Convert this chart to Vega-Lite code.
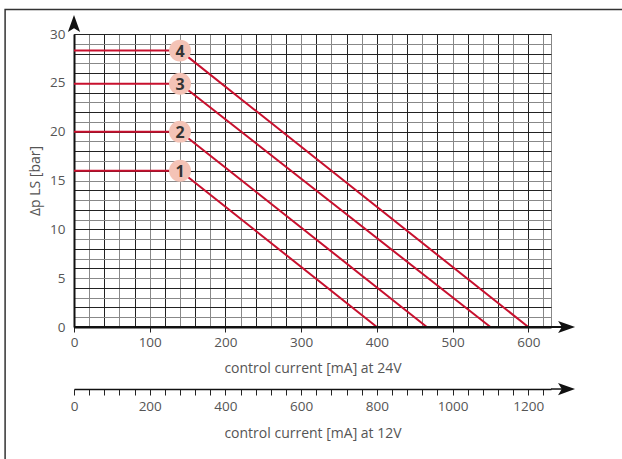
{
  "$schema": "https://vega.github.io/schema/vega-lite/v6.json",
  "autosize": {"type": "none"},
  "width": 477,
  "height": 293,
  "padding": {"left": 74, "top": 34, "right": 71, "bottom": 132},
  "background": "white",
  "config": {
    "view": {"stroke": "#888", "strokeWidth": 1},
    "font": "Open Sans",
    "axis": {"labelFont": "Open Sans", "titleFont": "Open Sans", "labelColor": "#555", "titleColor": "#555", "labelFontSize": 13.5, "titleFontSize": 14, "titleFontWeight": "normal", "format": "d"}
  },
  "datasets": {
    "curves": [
      {"curve": "1", "mA": 0, "bar": 16}, {"curve": "1", "mA": 140, "bar": 16}, {"curve": "1", "mA": 400, "bar": 0},
      {"curve": "2", "mA": 0, "bar": 20}, {"curve": "2", "mA": 140, "bar": 20}, {"curve": "2", "mA": 466, "bar": 0},
      {"curve": "3", "mA": 0, "bar": 24.9}, {"curve": "3", "mA": 140, "bar": 24.9}, {"curve": "3", "mA": 550, "bar": 0},
      {"curve": "4", "mA": 0, "bar": 28.3}, {"curve": "4", "mA": 140, "bar": 28.3}, {"curve": "4", "mA": 600, "bar": 0}
    ],
    "badges": [
      {"curve": "1", "mA": 140, "bar": 16},
      {"curve": "2", "mA": 140, "bar": 20},
      {"curve": "3", "mA": 140, "bar": 24.9},
      {"curve": "4", "mA": 140, "bar": 28.3}
    ],
    "frame": [{"mA": -91, "mA2": 820, "bar": 32.5, "bar2": -25}],
    "xext": [{"mA": 0, "mA2": 645, "bar": 0}],
    "xarrow": [{"mA": 650.6, "bar": 0}],
    "yarrow": [{"mA": 0, "bar": 31.07}],
    "x12ext": [{"mA12": 1260, "mA12b": 1290, "bar": -6.35}],
    "x12arrow": [{"mA12": 1301, "bar": -6.35}]
  },
  "layer": [
    {
      "layer": [
        {
          "data": {"name": "curves"},
          "mark": {"type": "line", "color": "#C8102E", "strokeWidth": 2},
          "encoding": {
            "x": {
              "field": "mA", "type": "quantitative",
              "scale": {"domain": [0, 630], "nice": false, "zero": false},
              "axis": {
                "orient": "bottom",
                "title": "control current [mA] at 24V",
                "values": [0,20,40,60,80,100,120,140,160,180,200,220,240,260,280,300,320,340,360,380,400,420,440,460,480,500,520,540,560,580,600,620],
                "tickCount": 1000,
                "format": "d",
                "labelExpr": "datum.value % 100 === 0 ? datum.label : ''",
                "grid": true,
                "gridColor": {"condition": {"test": "datum.value % 40 === 0", "value": "#222"}, "value": "#888"},
                "gridWidth": 1,
                "tickSize": 5,
                "tickColor": "#222",
                "tickOpacity": {"condition": {"test": "datum.value % 100 === 0", "value": 1}, "value": 0},
                "domainColor": "#111",
                "domainWidth": 2,
                "labelPadding": 3,
                "titlePadding": 13,
                "labelFlush": false,
                "labelOverlap": false
              }
            },
            "y": {
              "field": "bar", "type": "quantitative",
              "scale": {"domain": [0, 30], "nice": false},
              "axis": {
                "title": "Δp LS [bar]",
                "values": [0,1,2,3,4,5,6,7,8,9,10,11,12,13,14,15,16,17,18,19,20,21,22,23,24,25,26,27,28,29,30],
                "tickCount": 1000,
                "format": "d",
                "labelExpr": "datum.value % 5 === 0 ? datum.label : ''",
                "grid": true,
                "gridColor": {"condition": {"test": "datum.value % 2 === 0", "value": "#222"}, "value": "#888"},
                "gridWidth": 1,
                "ticks": false,
                "domainColor": "#111",
                "domainWidth": 2,
                "labelPadding": 9,
                "titlePadding": 7,
                "labelFlush": false,
                "labelOverlap": false
              }
            },
            "detail": {"field": "curve"}
          }
        },
        {
          "data": {"name": "badges"},
          "mark": {"type": "point", "shape": "circle", "filled": true, "size": 480, "color": "#F4C3B6", "opacity": 1},
          "encoding": {
            "x": {"field": "mA", "type": "quantitative"},
            "y": {"field": "bar", "type": "quantitative"}
          }
        },
        {
          "data": {"name": "badges"},
          "mark": {"type": "text", "fontSize": 16, "fontWeight": "bold", "color": "#333", "font": "Open Sans", "baseline": "middle", "align": "center", "dy": 1},
          "encoding": {
            "x": {"field": "mA", "type": "quantitative"},
            "y": {"field": "bar", "type": "quantitative"},
            "text": {"field": "curve"}
          }
        },
        {
          "data": {"name": "frame"},
          "mark": {"type": "rect", "fillOpacity": 0, "stroke": "#333", "strokeWidth": 1.5},
          "encoding": {
            "x": {"field": "mA", "type": "quantitative"},
            "x2": {"field": "mA2"},
            "y": {"field": "bar", "type": "quantitative"},
            "y2": {"field": "bar2"}
          }
        },
        {
          "data": {"name": "xext"},
          "mark": {"type": "rule", "color": "#111", "strokeWidth": 2},
          "encoding": {
            "x": {"field": "mA", "type": "quantitative"},
            "x2": {"field": "mA2"},
            "y": {"field": "bar", "type": "quantitative"}
          }
        },
        {
          "data": {"name": "xarrow"},
          "mark": {"type": "point", "filled": true, "color": "#111", "opacity": 1, "size": 289, "shape": "M1,0 L-1,-0.72 L-0.55,0 L-1,0.72 Z"},
          "encoding": {
            "x": {"field": "mA", "type": "quantitative"},
            "y": {"field": "bar", "type": "quantitative"}
          }
        },
        {
          "data": {"name": "yarrow"},
          "mark": {"type": "point", "filled": true, "color": "#111", "opacity": 1, "size": 289, "shape": "M0,-1 L-0.72,1 L0,0.55 L0.72,1 Z"},
          "encoding": {
            "x": {"field": "mA", "type": "quantitative"},
            "y": {"field": "bar", "type": "quantitative"}
          }
        }
      ]
    },
    {
      "layer": [
        {
          "data": {"name": "x12ext"},
          "mark": {"type": "rule", "color": "#111", "strokeWidth": 1.5},
          "encoding": {
            "x": {
              "field": "mA12", "type": "quantitative",
              "scale": {"domain": [0, 1260], "nice": false, "zero": false},
              "axis": {
                "orient": "bottom",
                "offset": 62,
                "title": "control current [mA] at 12V",
                "values": [0,40,80,120,160,200,240,280,320,360,400,440,480,520,560,600,640,680,720,760,800,840,880,920,960,1000,1040,1080,1120,1160,1200,1240],
                "tickCount": 1000,
                "format": "d",
                "labelExpr": "datum.value % 200 === 0 ? datum.label : ''",
                "grid": false,
                "tickSize": 6,
                "tickColor": "#222",
                "domainColor": "#111",
                "domainWidth": 1.5,
                "labelPadding": 4,
                "titlePadding": 14,
                "labelFlush": false,
                "labelOverlap": false
              }
            },
            "x2": {"field": "mA12b"},
            "y": {"field": "bar", "type": "quantitative"}
          }
        },
        {
          "data": {"name": "x12arrow"},
          "mark": {"type": "point", "filled": true, "color": "#111", "opacity": 1, "size": 289, "shape": "M1,0 L-1,-0.72 L-0.55,0 L-1,0.72 Z"},
          "encoding": {
            "x": {"field": "mA12", "type": "quantitative"},
            "y": {"field": "bar", "type": "quantitative"}
          }
        }
      ]
    }
  ],
  "resolve": {"scale": {"x": "independent"}, "axis": {"x": "independent"}}
}
